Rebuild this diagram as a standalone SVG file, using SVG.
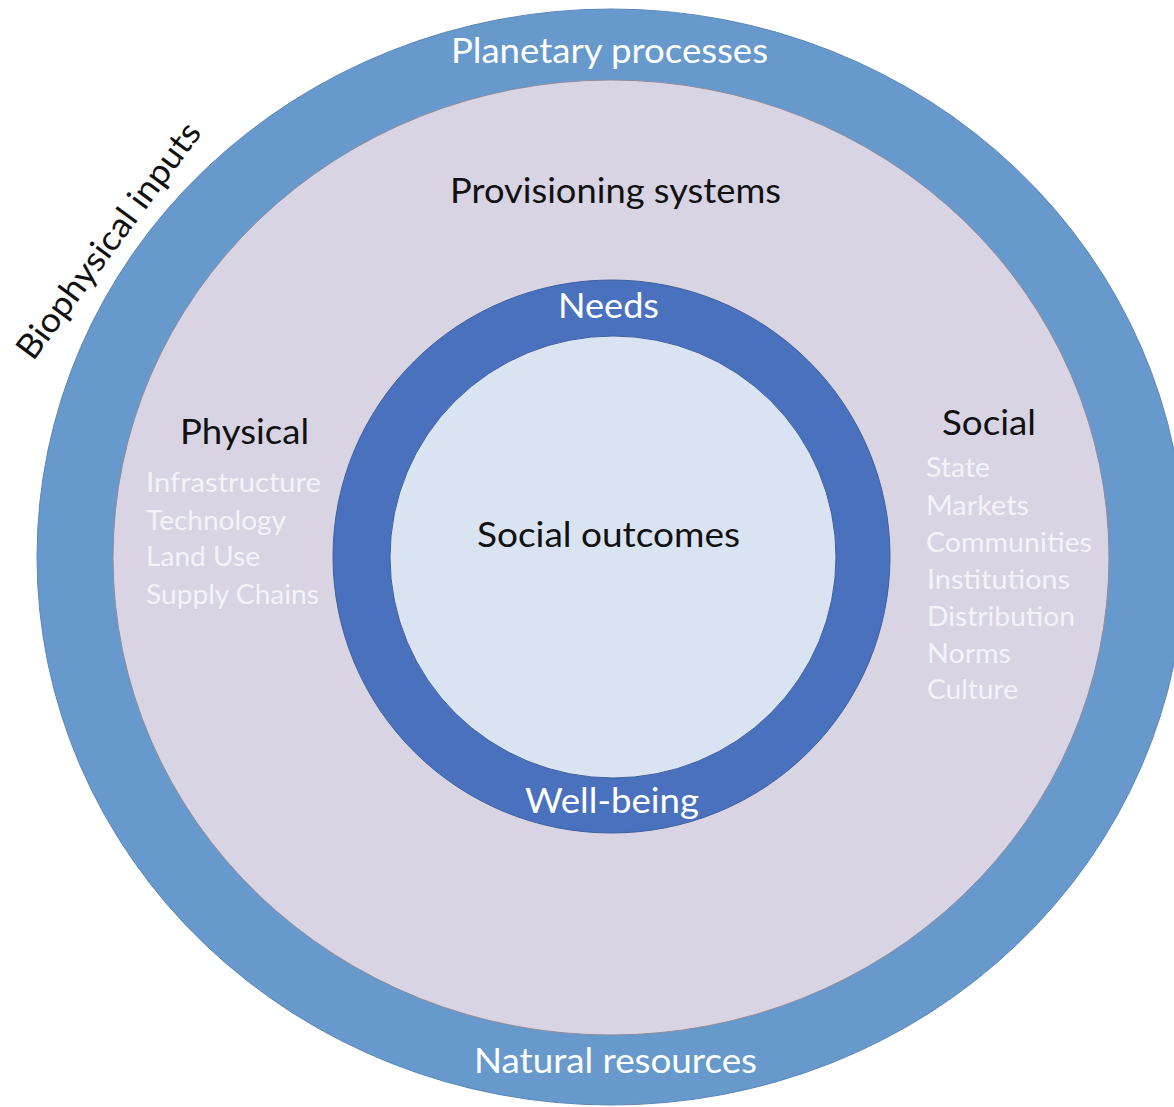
<svg xmlns="http://www.w3.org/2000/svg" width="1174" height="1107" viewBox="0 0 1174 1107">
<style>
  text { font-family: Lato, "Open Sans", "Liberation Sans", sans-serif; }
  .big { font-size: 34px; }
  .item { font-size: 27px; fill: #f3f3f8; }
  .white { fill: #ffffff; }
  .dark { fill: #111111; }
</style>
<rect width="1174" height="1107" fill="#ffffff"/>
<g id="planetary-ring">
  <ellipse cx="611" cy="557" rx="574" ry="548" fill="#6799cc" stroke="#5a87b8" stroke-width="1"/>
  <text class="big white" x="451" y="63" textLength="317" lengthAdjust="spacingAndGlyphs">Planetary processes</text>
  <text class="big white" x="474" y="1073" textLength="283" lengthAdjust="spacingAndGlyphs">Natural resources</text>
</g>
<g id="provisioning-systems">
  <ellipse cx="611" cy="557.5" rx="498" ry="477.5" fill="#d8d4e4" stroke="#8e8c9c" stroke-width="1"/>
  <text class="big dark" x="450" y="203" textLength="331" lengthAdjust="spacingAndGlyphs">Provisioning systems</text>
</g>
<g id="physical">
  <text class="big dark" x="180" y="444" textLength="129" lengthAdjust="spacingAndGlyphs">Physical</text>
  <text class="item" x="146" y="492" textLength="175" lengthAdjust="spacingAndGlyphs">Infrastructure</text>
  <text class="item" x="146" y="530" textLength="140" lengthAdjust="spacingAndGlyphs">Technology</text>
  <text class="item" x="146" y="566" textLength="114" lengthAdjust="spacingAndGlyphs">Land Use</text>
  <text class="item" x="146" y="604" textLength="173" lengthAdjust="spacingAndGlyphs">Supply Chains</text>
</g>
<g id="social">
  <text class="big dark" x="942" y="435" textLength="94" lengthAdjust="spacingAndGlyphs">Social</text>
  <text class="item" x="926" y="477" textLength="64" lengthAdjust="spacingAndGlyphs">State</text>
  <text class="item" x="926" y="515" textLength="103" lengthAdjust="spacingAndGlyphs">Markets</text>
  <text class="item" x="926" y="552" textLength="166" lengthAdjust="spacingAndGlyphs">Communities</text>
  <text class="item" x="927" y="589" textLength="143" lengthAdjust="spacingAndGlyphs">Institutions</text>
  <text class="item" x="927" y="626" textLength="148" lengthAdjust="spacingAndGlyphs">Distribution</text>
  <text class="item" x="927" y="663" textLength="84" lengthAdjust="spacingAndGlyphs">Norms</text>
  <text class="item" x="927" y="699" textLength="91" lengthAdjust="spacingAndGlyphs">Culture</text>
</g>
<g id="needs-ring">
  <ellipse cx="611.5" cy="556.5" rx="278.5" ry="276.5" fill="#4a71be" stroke="#3f5f9e" stroke-width="1"/>
  <text class="big white" x="558" y="318" textLength="101" lengthAdjust="spacingAndGlyphs">Needs</text>
  <text class="big white" x="525" y="813" textLength="174" lengthAdjust="spacingAndGlyphs">Well-being</text>
</g>
<g id="social-outcomes">
  <ellipse cx="613" cy="557" rx="223" ry="221" fill="#dae3f1" stroke="#3f5f9e" stroke-width="1"/>
  <text class="big dark" x="477" y="547" textLength="263" lengthAdjust="spacingAndGlyphs">Social outcomes</text>
</g>
<g id="biophysical-inputs">
  <text class="big dark" transform="translate(33 362) rotate(-53.5)" x="0" y="0" textLength="285" lengthAdjust="spacingAndGlyphs">Biophysical inputs</text>
</g>
<g id="connectors"></g>
</svg>
